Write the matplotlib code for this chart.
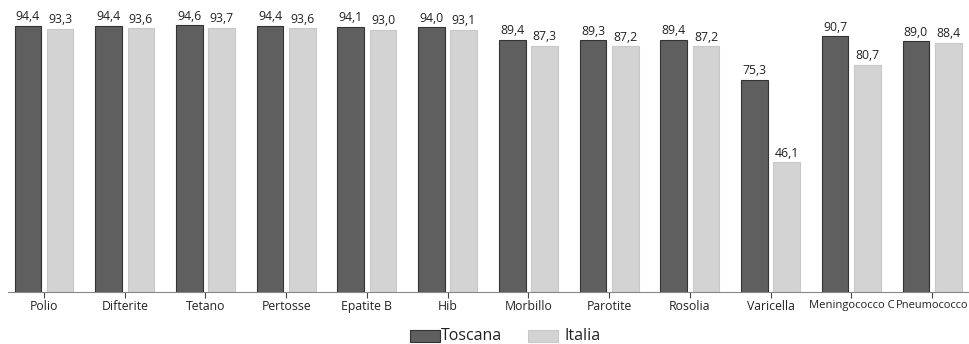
import numpy as np
import matplotlib.pyplot as plt
from matplotlib.patches import Rectangle

plt.rcParams['font.family'] = ['Open Sans', 'DejaVu Sans']

vaccini = ['Polio', 'Difterite', 'Tetano', 'Pertosse', 'Epatite B', 'Hib',
           'Morbillo', 'Parotite', 'Rosolia', 'Varicella', 'Meningococco C',
           'Pneumococco']
toscana = [94.4, 94.4, 94.6, 94.4, 94.1, 94.0, 89.4, 89.3, 89.4, 75.3, 90.7, 89.0]
italia = [93.3, 93.6, 93.7, 93.6, 93.0, 93.1, 87.3, 87.2, 87.2, 46.1, 80.7, 88.4]
serie = ['Toscana', 'Italia']

dark = '#5f5f5f'
light = '#d3d3d3'
dark_edge = '#333333'
light_edge = '#c8c8c8'

W, H = 970, 344
fig = plt.figure(figsize=(W / 100, H / 100), dpi=100)
ax = fig.add_axes([0.0, 1 - 292 / H, 1.0, 292 / H])

x = np.arange(len(vaccini))
w = 0.33
off = 0.2
b1 = ax.bar(x - off, toscana, w, color=dark, edgecolor=dark_edge, linewidth=0.8)
b2 = ax.bar(x + off, italia, w, color=light, edgecolor=light_edge, linewidth=0.8)

def fmt(v):
    return f'{v:.1f}'.replace('.', ',')

for bars, vals in ((b1, toscana), (b2, italia)):
    for r, v in zip(bars, vals):
        ax.text(r.get_x() + r.get_width() / 2, v + 0.9, fmt(v),
                ha='center', va='bottom', fontsize=8.8, color='#222222')

ax.set_xlim(-0.545, 11.47)
ax.set_ylim(0, 103.6)
ax.set_xticks(x)
ax.set_xticklabels(vaccini, fontsize=8.8, color='#222222')
# the two long names get a smaller size so they fit under their group
labels = ax.get_xticklabels()
labels[-2].set_fontsize(8.1)
labels[-1].set_fontsize(7.9)
ax.set_yticks([])
for s in ('top', 'right', 'left'):
    ax.spines[s].set_visible(False)
ax.spines['bottom'].set_color('#888888')
ax.spines['bottom'].set_bounds(-0.45, 11.47)
ax.tick_params(axis='x', length=4, width=0.8, color='#444444', pad=2)

# legend drawn by hand below the axis
legend_items = [(serie[0], dark, dark_edge, 410, 441),
                (serie[1], light, light_edge, 528, 565)]
for label, fc, ec, px, tx in legend_items:
    fig.patches.append(Rectangle((px / W, 1 - 342 / H), 30 / W, 12 / H,
                                 facecolor=fc, edgecolor=ec, linewidth=0.8,
                                 transform=fig.transFigure, figure=fig))
    fig.text(tx / W, 1 - 336 / H, label, ha='left', va='center',
             fontsize=11.5, color='#222222')

fig.savefig('out.png', dpi=100)
